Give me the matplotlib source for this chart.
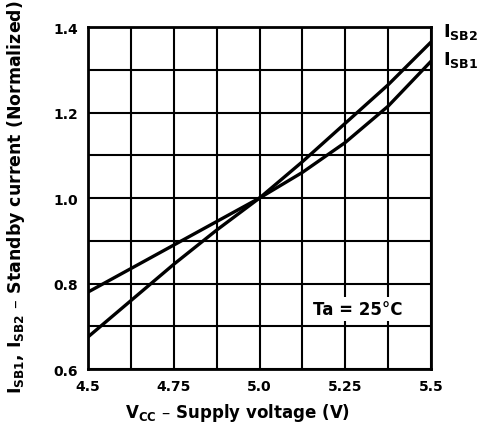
import matplotlib.pyplot as plt
import numpy as np

vcc = [4.5, 4.625, 4.75, 4.875, 5.0, 5.125, 5.25, 5.375, 5.5]
isb1 = [0.78, 0.835, 0.89, 0.945, 1.0, 1.06, 1.13, 1.215, 1.32]
isb2 = [0.675, 0.76, 0.845, 0.925, 1.0, 1.085, 1.175, 1.265, 1.365]

xticks = [4.5, 4.75, 5.0, 5.25, 5.5]
xticklabels = ["4.5", "4.75", "5.0", "5.25", "5.5"]
yticks = [0.6, 0.8, 1.0, 1.2, 1.4]
yticklabels = ["0.6", "0.8", "1.0", "1.2", "1.4"]

plt.rcParams["font.family"] = ["DejaVu Sans"]
plt.rcParams["font.weight"] = "bold"
plt.rcParams["mathtext.default"] = "bf"

fig = plt.figure(figsize=(4.9, 4.35), dpi=100)
ax = fig.add_axes([0.1796, 0.1494, 0.700, 0.786])

# grid
for gx in np.arange(4.5, 5.501, 0.125):
    ax.axvline(gx, color="black", lw=1.5, zorder=1)
for gy in np.arange(0.6, 1.401, 0.1):
    ax.axhline(gy, color="black", lw=1.5, zorder=1)

ax.plot(vcc, isb1, color="black", lw=2.4, zorder=3)
ax.plot(vcc, isb2, color="black", lw=2.4, zorder=3)

ax.set_xlim(4.5, 5.5)
ax.set_ylim(0.6, 1.4)
ax.set_xticks(xticks)
ax.set_xticklabels(xticklabels)
ax.set_yticks(yticks)
ax.set_yticklabels(yticklabels)
ax.tick_params(length=0, labelsize=10, pad=7)
for s in ax.spines.values():
    s.set_linewidth(2)

ax.text(5.5 + 0.035, 1.392, r"I$_{SB2}$", fontsize=13, va="center", ha="left", clip_on=False)
ax.text(5.5 + 0.035, 1.325, r"I$_{SB1}$", fontsize=13, va="center", ha="left", clip_on=False)

ax.text(5.287, 0.74, "Ta = 25°C", fontsize=12, ha="center", va="center", zorder=4,
        bbox=dict(facecolor="white", edgecolor="none", pad=2))

fig.text(238 / 490, 1 - 413 / 435, r"V$_{CC}$ – Supply voltage (V)", fontsize=12,
         fontweight="bold", ha="center", va="center")
fig.text(16 / 490, 1 - 197 / 435, r"I$_{SB1}$, I$_{SB2}$ – Standby current (Normalized)",
         fontsize=12.5, fontweight="bold", rotation=90, ha="center", va="center")

plt.savefig("out.png", dpi=100)
